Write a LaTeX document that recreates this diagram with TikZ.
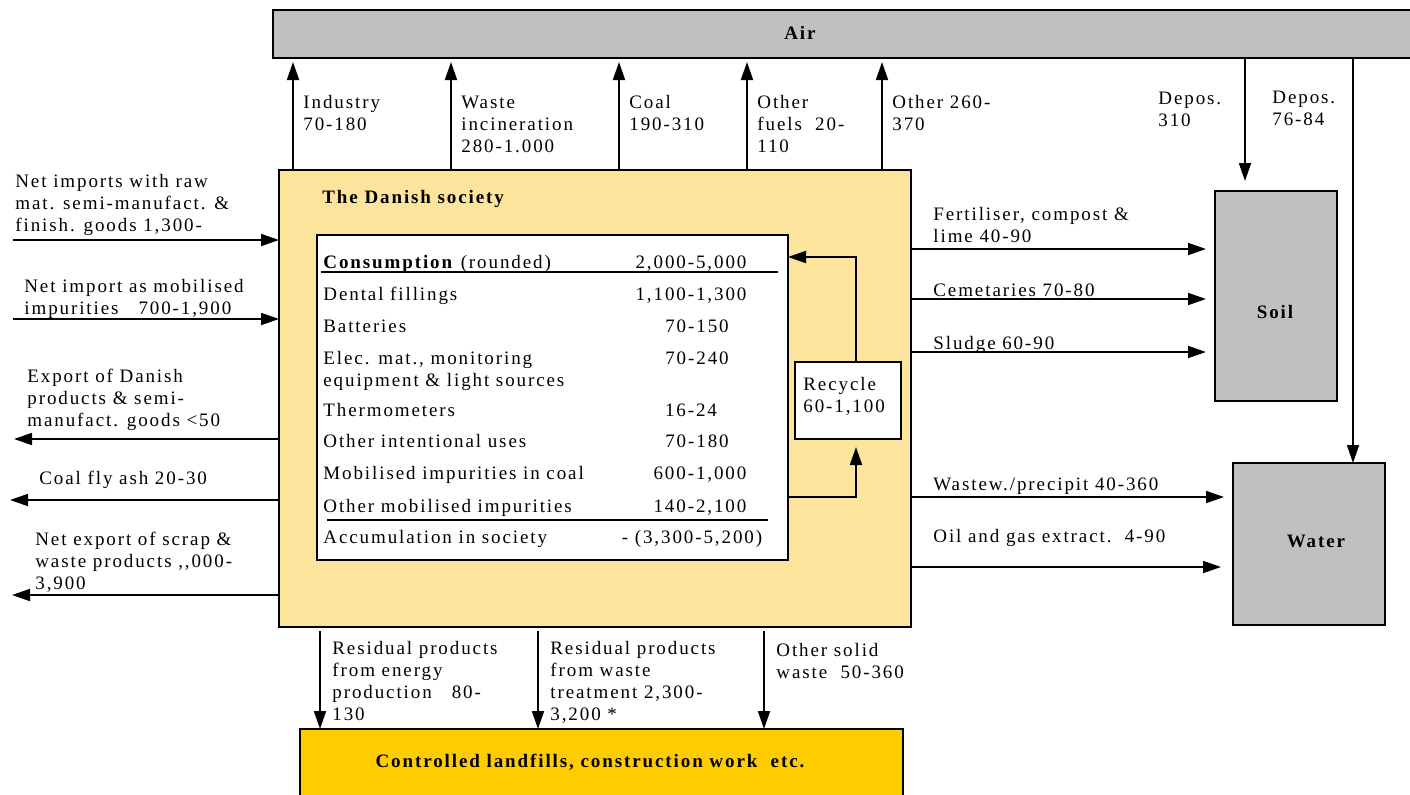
\documentclass[tikz,border=0pt]{standalone}
\usepackage{fontspec}
\setmainfont{Liberation Serif}[LetterSpace=10]
\usetikzlibrary{arrows.meta}
\definecolor{airgray}{RGB}{192,192,192}
\definecolor{socyellow}{RGB}{253,228,156}
\definecolor{fillyellow}{RGB}{255,204,0}
\tikzset{box/.style={draw, line width=0.9pt, inner sep=0pt, outer sep=0pt, anchor=north west},
 flow/.style={draw, line width=0.9pt, -{Triangle[length=9pt,width=6pt]}},
 rule/.style={draw, line width=0.9pt},
 lbl/.style={anchor=base west, inner sep=0pt, align=left, font=\fontsize{9.5}{11}\selectfont},
 val/.style={anchor=base, inner sep=0pt, font=\fontsize{9.5}{11}\selectfont},
 title/.style={anchor=base, inner sep=0pt, font=\fontsize{9.5}{11}\selectfont\bfseries},
 }

\begin{document}
\begin{tikzpicture}[x=0.5pt,y=-0.5pt]
        \useasboundingbox (0,0) rectangle (1410,794);
        % compartments
        \node[box, fill=airgray, minimum width=571pt, minimum height=24pt] (air) at (273,10) {};
        \node[title] (airlbl) at (800,39) {Air};
        \node[box, fill=socyellow, minimum width=316pt, minimum height=228.5pt] (soc) at (279,170) {};
        \node[title, anchor=base west] (soclbl) at (322,203) {The Danish society};
        \node[box, fill=white, minimum width=235.5pt, minimum height=162.5pt] (tab) at (317,235) {};
        \node[box, fill=white, minimum width=53pt, minimum height=38.5pt] (rec) at (795,362) {};
        \node[lbl] (reclbl) at (803,412) {Recycle\\60-1,100};
        \node[box, fill=airgray, minimum width=61pt, minimum height=105pt] (soil) at (1215,191) {};
        \node[title] (soillbl) at (1275,318) {Soil};
        \node[box, fill=airgray, minimum width=76pt, minimum height=81pt] (water) at (1233,463) {};
        \node[title] (waterlbl) at (1316,547) {Water};
        \node[box, fill=fillyellow, minimum width=301.5pt, minimum height=40pt] (fill) at (300,729) {};
        \node[title] (filllbl) at (590,767) {Controlled landfills, construction work\ \ etc.};

        % consumption table
        \foreach \n/\y/\name in {1/268/{\textbf{Consumption} (rounded)}, 2/300/{Dental fillings},
            3/332/{Batteries}, 4/386/{Elec. mat., monitoring\\equipment \& light sources},
            5/416/{Thermometers}, 6/447/{Other intentional uses},
            7/479/{Mobilised impurities in coal}, 8/512/{Other mobilised impurities},
            9/543/{Accumulation in society}} {
            \node[lbl] (row\n) at (323,\y) {\name};
        }
        \foreach \n/\y/\xv/\v in {1/268/691/{2,000-5,000}, 2/300/691/{1,100-1,300},
            3/332/697/{70-150}, 4/364/697/{70-240}, 5/416/691/{16-24}, 6/447/697/{70-180},
            7/479/700/{600-1,000}, 8/512/700/{140-2,100}, 9/543/692/{- (3,300-5,200)}} {
            \node[val] (num\n) at (\xv,\y) {\v};
        }
        \draw[rule] (321,272) -- (778,272);
        \draw[rule] (327,520) -- (768,520);

        % recycling loop
        \coordinate (recout) at (tab.east |- 0,497);
        \coordinate (recin) at (tab.east |- 0,257);
        \draw[flow] (rec.north -| 856,0) -- (856,257) -- (recin);
        \draw[flow] (recout) -- (856,497) -- ([yshift=-4pt]rec.south -| 856,0);

        % emissions to air
        \foreach \n/\x/\y/\txt in {a/293/130/{Industry\\70-180}, b/451/152/{Waste\\incineration\\280-1.000},
            c/619/130/{Coal\\190-310}, d/747/152/{Other\\fuels\ \ 20-\\110}, e/882/130/{Other 260-\\370}} {
            \coordinate (up\n) at (\x,170);
            \draw[flow] (up\n) -- ([yshift=-2pt]up\n |- air.south);
            \node[lbl] (uplbl\n) at (\x+10,\y) {\txt};
        }

        % deposition
        \coordinate (dep1) at (1245,58);
        \coordinate (dep2) at (1353,58);
        \draw[flow] (dep1) -- ([yshift=5pt]dep1 |- soil.north);
        \draw[flow] (dep2) -- (dep2 |- water.north);
        \node[lbl] (deplbl1) at (1158,126) {Depos.\\310};
        \node[lbl] (deplbl2) at (1272,125) {Depos.\\76-84};

        % imports and exports
        \coordinate (in1) at (13,240);
        \coordinate (in2) at (13,319);
        \coordinate (out1) at (14,439);
        \coordinate (out2) at (10,500);
        \coordinate (out3) at (12,595);
        \draw[flow] (in1) -- (in1 -| soc.west);
        \draw[flow] (in2) -- (in2 -| soc.west);
        \draw[flow] (out1 -| soc.west) -- (out1);
        \draw[flow] (out2 -| soc.west) -- (out2);
        \draw[flow] (out3 -| soc.west) -- (out3);
        \node[lbl] (inlbl1) at (15,231) {Net imports with raw\\mat. semi-manufact. \&\\finish. goods 1,300-};
        \node[lbl] (inlbl2) at (24,314) {Net import as mobilised\\impurities\ \ \ 700-1,900};
        \node[lbl] (outlbl1) at (27,426) {Export of Danish\\products \& semi-\\manufact. goods <50};
        \node[lbl] (outlbl2) at (39,484) {Coal fly ash 20-30};
        \node[lbl] (outlbl3) at (35,589) {Net export of scrap \&\\waste products {,}{,}000-\\3,900};

        % to soil and water
        \foreach \n/\y/\x in {1/249/1206, 2/299/1206, 3/352/1206, 4/497/1224, 5/567/1221} {
            \coordinate (rs\n) at (soc.east |- 0,\y);
            \coordinate (re\n) at (\x,\y);
            \draw[flow] (rs\n) -- (re\n);
        }
        \node[lbl] (rlbl1) at (933,242) {Fertiliser, compost \&\\lime 40-90};
        \node[lbl] (rlbl2) at (933,296) {Cemetaries 70-80};
        \node[lbl] (rlbl3) at (933,349) {Sludge 60-90};
        \node[lbl] (rlbl4) at (933,490) {Wastew./precipit 40-360};
        \node[lbl] (rlbl5) at (933,542) {Oil and gas extract.\ \ 4-90};

        % to landfills
        \foreach \n/\x/\y/\txt in {a/320/720/{Residual products\\from energy\\production\ \ \ 80-\\130},
            b/538/720/{Residual products\\from waste\\treatment 2,300-\\3,200 *},
            c/764/678/{Other solid\\waste\ \ 50-360}} {
            \coordinate (dn\n) at (\x,631);
            \draw[flow] (dn\n) -- (dn\n |- fill.north);
            \node[lbl] (dnlbl\n) at (\x+12,\y) {\txt};
        }
    \end{tikzpicture}
\end{document}
